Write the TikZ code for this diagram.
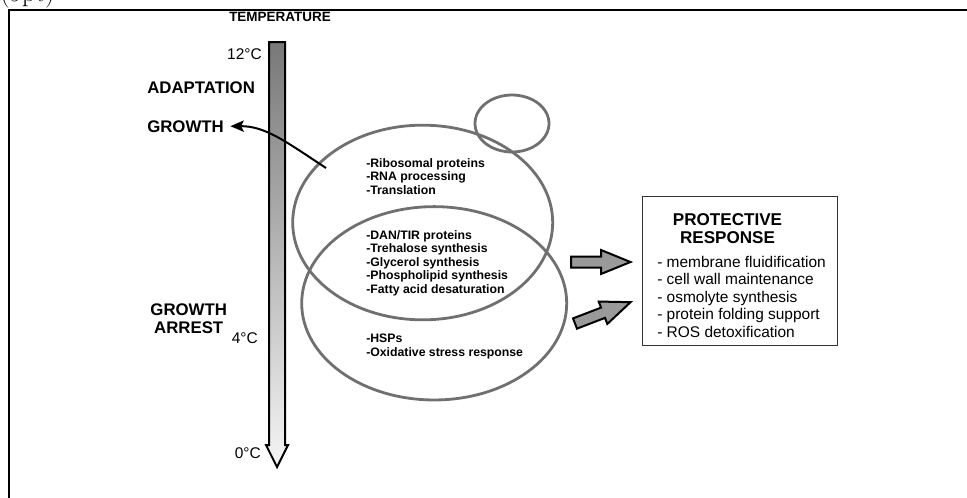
\documentclass[tikz,border=0pt]{standalone}
\usepackage{fontspec}
\newfontfamily\arialf{Liberation Sans}
\usetikzlibrary{shapes.geometric,arrows.meta}
\definecolor{ellgray}{HTML}{707070}
\definecolor{arrgray}{HTML}{9A9A9A}
\definecolor{boxgray}{HTML}{333333}
\definecolor{thermtop}{HTML}{787878}
\definecolor{thermbot}{HTML}{F5F5F5}
\begin{document}
\begin{tikzpicture}[x=0.75pt,y=-0.75pt,
  lbl/.style={font=\arialf\bfseries\fontsize{12.6}{14}\selectfont, inner sep=0pt},
  tval/.style={font=\arialf\fontsize{11.6}{13}\selectfont, inner sep=0pt, anchor=base east},
  item/.style={font=\arialf\bfseries\fontsize{9.2}{10}\selectfont, inner sep=0pt, anchor=base west},
  ritem/.style={font=\arialf\fontsize{11.6}{13}\selectfont, inner sep=0pt, anchor=base west},
  ell/.style={ellipse, draw=ellgray, line width=2.1pt, inner sep=0pt},
  blockarrow/.style={draw=black, fill=arrgray, line width=1.5pt, line join=miter}]
\useasboundingbox (0,0) rectangle (967,497);
% cut-off caption at top left
\node[anchor=base west, inner sep=0pt, font=\fontsize{20}{24}\selectfont] (fs) at (0,1.5) {(9pt)};
% frame
\draw[line width=1.5pt] (9,10) rectangle (990,520);
% temperature bar
\node[anchor=base, font=\arialf\bfseries\fontsize{10.1}{12}\selectfont, inner sep=0pt] (temp) at (280,21.5) {TEMPERATURE};
\path[draw=black, line width=1.5pt, top color=thermtop, bottom color=thermbot, line join=miter]
  (269,42) -- (285,42) -- (285,445) -- (288,445) -- (277,467) -- (266,445) -- (269,445) -- cycle;
\node[tval] (t12) at (262,59) {12°C};
\node[tval] (t4) at (258,343) {4°C};
\node[tval] (t0) at (261,458) {0°C};
% left labels
\node[lbl, anchor=base west] (adapt) at (147,93) {ADAPTATION};
\node[lbl, anchor=base west] (growth) at (147,132) {GROWTH};
\node[lbl, anchor=base] (arrest1) at (188.7,315) {GROWTH};
\node[lbl, anchor=base] (arrest2) at (188.7,333) {ARREST};
% ellipses
\node[ell, minimum width=195pt, minimum height=146pt] (upper) at (422.7,222.5) {};
\node[ell, minimum width=198.75pt, minimum height=145pt] (lower) at (434.2,303.3) {};
\node[ell, minimum width=55.5pt, minimum height=42.75pt] (small) at (512,123.5) {};
% ellipse texts
\foreach \t [count=\i] in {-Ribosomal proteins,-RNA processing,-Translation}
  \node[item] (ra\i) at (366,{167.3+(\i-1)*13.35}) {\t};
\foreach \t [count=\i] in {-DAN/TIR proteins,-Trehalose synthesis,-Glycerol synthesis,-Phospholipid synthesis,-Fatty acid desaturation}
  \node[item] (rb\i) at (366,{239+(\i-1)*13.6}) {\t};
\foreach \t [count=\i] in {-HSPs,-Oxidative stress response}
  \node[item] (rc\i) at (366,{342+(\i-1)*14.3}) {\t};
% growth arrow
\coordinate (gstart) at (326,168);
\draw[line width=1.5pt, -{Stealth[length=10pt,width=8.5pt,inset=2pt]}]
  (gstart) .. controls (285,141) and (265,126) .. ([xshift=4.8pt]growth.east);
% protective response box
\node[draw=boxgray, line width=1.1pt, minimum width=146pt, minimum height=111.75pt, inner sep=0pt] (resp) at (740,271.2) {};
\node[lbl, anchor=base, font=\arialf\bfseries\fontsize{12.8}{14}\selectfont] (prot1) at (727.5,225) {PROTECTIVE};
\node[lbl, anchor=base, font=\arialf\bfseries\fontsize{12.8}{14}\selectfont] (prot2) at (727.5,243.5) {RESPONSE};
\foreach \t [count=\i] in {- membrane fluidification,- cell wall maintenance,- osmolyte synthesis,- protein folding support,- ROS detoxification}
  \node[ritem] (pr\i) at (657,{267.5+(\i-1)*17.4}) {\t};
% block arrows
\draw[blockarrow] (571,256.5) -- (601,256.5) -- (601,250) -- (630.5,262) -- (601,274) -- (601,267.5) -- (571,267.5) -- cycle;
\begin{scope}[shift={(575,323.5)}, rotate=21]
\draw[blockarrow] (0,-5.5) -- (30,-5.5) -- (30,-12) -- (59.5,0) -- (30,12) -- (30,5.5) -- (0,5.5) -- cycle;
\end{scope}
\end{tikzpicture}
\end{document}
